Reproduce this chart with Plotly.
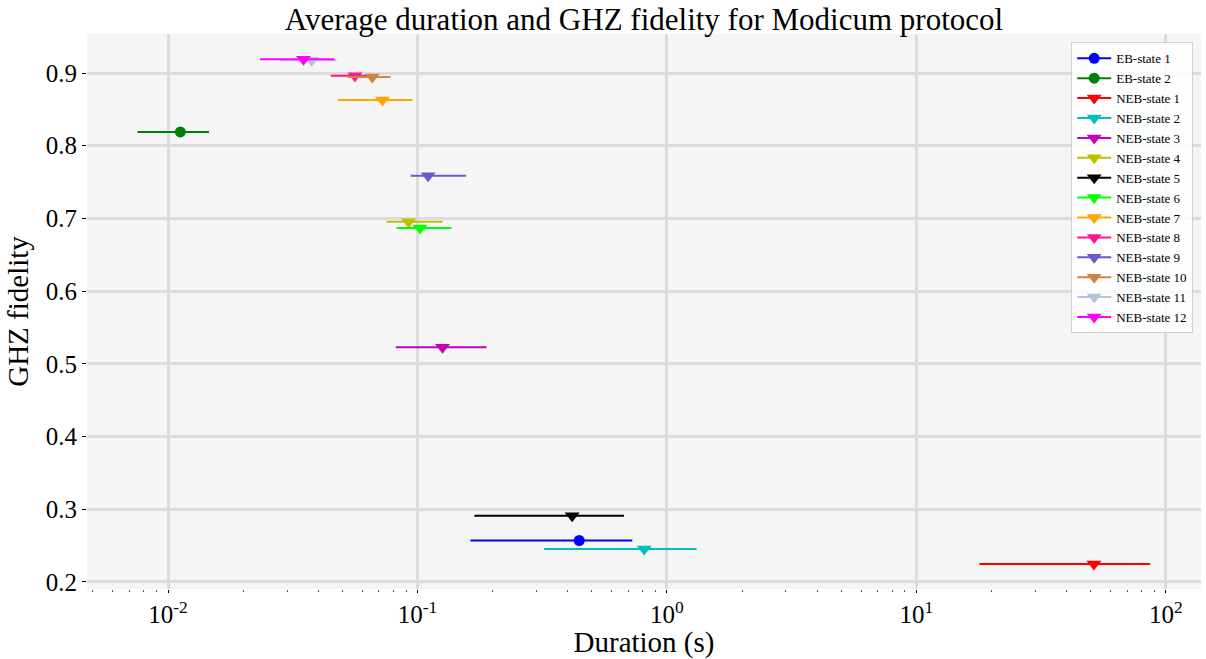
import plotly.graph_objects as go

labels = ["EB-state 1", "EB-state 2", "NEB-state 1", "NEB-state 2", "NEB-state 3",
          "NEB-state 4", "NEB-state 5", "NEB-state 6", "NEB-state 7", "NEB-state 8",
          "NEB-state 9", "NEB-state 10", "NEB-state 11", "NEB-state 12"]
duration = [0.445, 0.0112, 51.5, 0.811, 0.126, 0.0921, 0.417, 0.1024, 0.0724, 0.0561,
            0.1103, 0.0659, 0.0377, 0.0349]
duration_low = [0.163, 0.00754, 17.9, 0.322, 0.0818, 0.0752, 0.169, 0.0824, 0.048, 0.0449,
                0.0938, 0.0525, 0.0281, 0.0234]
duration_high = [0.726, 0.0146, 86.5, 1.315, 0.1892, 0.1259, 0.673, 0.1368, 0.0955, 0.0673,
                 0.1567, 0.078, 0.0473, 0.0464]
fidelity = [0.257, 0.819, 0.2247, 0.2453, 0.5228, 0.6955, 0.291, 0.6868, 0.863, 0.8963,
            0.7588, 0.8945, 0.9175, 0.9188]
colors = ["#0000ff", "#008000", "#ff0000", "#00bfbf", "#bf00bf", "#bfbf00", "#000000",
          "#00ff00", "#ffa500", "#ff1493", "#6a5acd", "#cd853f", "#b0c4de", "#ff00ff"]
symbols = ["circle", "circle"] + ["triangle-down"] * 12

x_tickvals = [0.01, 0.1, 1, 10, 100]
x_ticktext = ["10<sup>-2</sup>", "10<sup>-1</sup>", "10<sup>0</sup>", "10<sup>1</sup>", "10<sup>2</sup>"]
y_tickvals = [0.2, 0.3, 0.4, 0.5, 0.6, 0.7, 0.8, 0.9]

FONT = "Liberation Serif"

fig = go.Figure()
for i, name in enumerate(labels):
    fig.add_trace(go.Scatter(
        x=[duration[i]], y=[fidelity[i]], name=name,
        mode="lines+markers",
        line=dict(color=colors[i], width=2),
        marker=dict(color=colors[i], symbol=symbols[i],
                    size=11 if symbols[i] == "circle" else 13,
                    line=dict(width=0)),
        error_x=dict(type="data", symmetric=False,
                     array=[duration_high[i] - duration[i]],
                     arrayminus=[duration[i] - duration_low[i]],
                     color=colors[i], thickness=2, width=0),
    ))

minor_vals = [m * 10 ** e for e in range(-3, 3) for m in range(2, 10)]

fig.update_layout(
    width=1206, height=659,
    paper_bgcolor="white", plot_bgcolor="#f5f5f5",
    margin=dict(l=87, r=5, t=34, b=70, autoexpand=False),
    title=dict(text="Average duration and GHZ fidelity for Modicum protocol",
               x=0.534, xanchor="center", y=0.971, yanchor="middle",
               font=dict(family=FONT, size=31, color="black")),
    font=dict(family=FONT, color="black"),
    showlegend=True,
    legend=dict(x=0.993, y=0.985, xanchor="right", yanchor="top",
                bgcolor="rgba(255,255,255,0.85)", bordercolor="#d0d0d0", borderwidth=1,
                font=dict(family=FONT, size=13, color="black"),
                tracegroupgap=0, itemwidth=34),
    xaxis=dict(type="log", range=[-2.325, 2.141], automargin=False,
               tickvals=x_tickvals, ticktext=x_ticktext,
               ticks="outside", ticklen=3, tickcolor="black",
               showgrid=True, gridcolor="#dcdcdc", gridwidth=3,
               zeroline=False, showline=False,
               tickfont=dict(family=FONT, size=25, color="black"),
               title=dict(text="Duration (s)", font=dict(family=FONT, size=29, color="black"),
                          standoff=3),
               minor=dict(tickvals=minor_vals, ticks="outside", ticklen=2,
                          tickcolor="#555555", showgrid=False)),
    yaxis=dict(range=[0.1903, 0.9537], tickvals=y_tickvals, automargin=False,
               tickformat=".1f",
               ticks="outside", ticklen=4, tickcolor="black",
               showgrid=True, gridcolor="#dcdcdc", gridwidth=3,
               zeroline=False, showline=False,
               tickfont=dict(family=FONT, size=25, color="black"),
               title=dict(text="GHZ fidelity", font=dict(family=FONT, size=29, color="black"),
                          standoff=8)),
)

fig.write_html("out.html", config={"displayModeBar": False},
               post_script="document.body.style.margin='0px';document.body.style.overflow='hidden';")
